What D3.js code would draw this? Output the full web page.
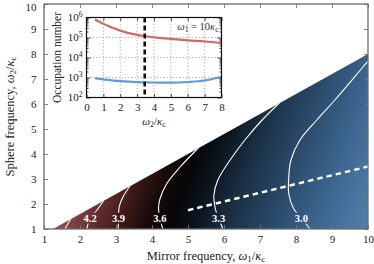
<!DOCTYPE html>
<html>
<head>
<meta charset="utf-8">
<script src="https://cdn.jsdelivr.net/npm/d3@7"></script>
<style>
body { margin: 0; background: #fff; }
text { font-family: "Liberation Serif", "DejaVu Serif", serif; }
</style>
</head>
<body>
<svg id="chart"></svg>
<script>
// main map: omega1 (mirror) vs omega2 (sphere), both in units of kappa_c
const mirrorTicks = [1, 2, 3, 4, 5, 6, 7, 8, 9, 10]
const sphereTicks = [1, 2, 3, 4, 5, 6, 7, 8, 9, 10]
const regionEdge = [[1.25, 1], [10, 8], [10, 1]]
const contourLevels = ['4.5', '4.2', '3.9', '3.6', '3.3', '3.0']
const contour45 = [[1.58, 1], [1.66, 1.2], [1.74, 1.4]]
const contour42 = [[2.19, 1], [2.28, 1.44], [2.45, 1.72], [2.66, 2.14]]
const contour39 = [[3.06, 1], [3.07, 1.44], [3.09, 1.9], [3.2, 2.3], [3.4, 2.74]]
const contour36 = [[4.3, 1], [4.22, 1.44], [4.18, 1.84], [4.22, 2.2], [4.42, 2.84], [4.78, 3.48], [5.3, 4.26]]
const contour33 = [[5.97, 1], [5.85, 1.44], [5.76, 1.8], [5.72, 2.36], [5.83, 2.96], [6.17, 3.76], [6.58, 4.56], [7.06, 5.36], [7.55, 6.06]]
const contour30 = [[8.39, 1], [8.15, 1.44], [7.94, 1.8], [7.8, 2.4], [7.8, 3.1], [7.86, 3.76], [8.11, 4.56], [8.58, 5.36], [9.08, 6.16], [9.86, 7.48], [10.05, 7.8]]
const labelSpots = [null, [2.28, 1.44], [3.07, 1.44], [4.22, 1.44], [5.85, 1.44], [8.15, 1.44]]
const ridgeLine = [[5, 1.75], [10, 3.5]]

// inset: occupation number vs omega2 at omega1 = 10 kappa_c
const insetXTicks = [0, 1, 2, 3, 4, 5, 6, 7, 8]
const insetYTicks = [1e2, 1e3, 1e4, 1e5, 1e6]
const insetOmega2 = [0.5, 1, 1.5, 2, 2.5, 3, 3.5, 4, 5, 6, 7, 8]
const occRed = [7.9e5, 4.8e5, 3.2e5, 2.2e5, 1.66e5, 1.35e5, 1.15e5, 1.02e5, 8.5e4, 7.2e4, 6.3e4, 5.3e4]
const occBlue = [912, 813, 724, 661, 617, 589, 569, 562, 556, 596, 708, 1096]
const insetMarker = 3.45

const W = 374, H = 264
const svg = d3.select('#chart').attr('width', W).attr('height', H)

const x = d3.scaleLinear().domain([1, 10]).range([44, 368])
const y = d3.scaleLinear().domain([1, 10]).range([229, 4])
const line = d3.line().x(d => x(d[0])).y(d => y(d[1]))
const smooth = d3.line().x(d => x(d[0])).y(d => y(d[1])).curve(d3.curveCatmullRom)

const defs = svg.append('defs')
defs.append('clipPath').attr('id', 'regionClip')
    .append('path').attr('d', line(regionEdge) + 'Z')

// colour runs along a tilted axis, roughly across the contours
let p0 = [x(regionEdge[0][0]), y(1)]
let dir = [130, 45]
let len = Math.hypot(dir[0], dir[1])
let u = [dir[0] / len, dir[1] / len]
let t = (x(10) - p0[0]) * u[0] + (y(1) - p0[1]) * u[1]
let grad = defs.append('linearGradient').attr('id', 'mapGrad')
    .attr('gradientUnits', 'userSpaceOnUse')
    .attr('x1', p0[0]).attr('y1', p0[1])
    .attr('x2', p0[0] + u[0] * t).attr('y2', p0[1] + u[1] * t)
let stops = [
    [0, '#955150'], [0.04, '#874646'], [0.11, '#6a3131'], [0.21, '#3f1919'],
    [0.3, '#160909'], [0.37, '#060608'], [0.45, '#0c151f'], [0.55, '#1b2f44'],
    [0.82, '#3a638c'], [1, '#5280ac']
]
grad.selectAll('stop').data(stops).enter().append('stop')
    .attr('offset', d => d[0]).attr('stop-color', d => d[1])

// coloured region
svg.append('path')
    .attr('d', line(regionEdge) + 'Z')
    .attr('fill', 'url(#mapGrad)')

// contour labels first, their boxes then punch holes in the lines
let contours = [contour45, contour42, contour39, contour36, contour33, contour30]
let labelG = svg.append('g')
let labels = labelG.selectAll('text')
    .data(contourLevels.map((lv, i) => ({ lv: lv, at: labelSpots[i] })).filter(d => d.at))
    .enter().append('text')
    .attr('x', d => x(d.at[0]))
    .attr('y', d => y(d.at[1]))
    .attr('dy', '0.35em')
    .attr('text-anchor', 'middle')
    .attr('fill', 'white')
    .attr('font-weight', 'bold')
    .attr('font-size', 10.5)
    .text(d => d.lv)

let mask = defs.append('mask').attr('id', 'lblMask')
    .attr('maskUnits', 'userSpaceOnUse')
    .attr('x', 0).attr('y', 0).attr('width', W).attr('height', H)
mask.append('rect').attr('width', W).attr('height', H).attr('fill', 'white')
labels.each(function() {
    let b = this.getBBox()
    mask.append('rect')
        .attr('x', b.x - 1).attr('y', b.y)
        .attr('width', b.width + 2).attr('height', b.height)
        .attr('fill', 'black')
})

let contourG = svg.append('g')
    .attr('clip-path', 'url(#regionClip)')
contourG.append('g').attr('mask', 'url(#lblMask)')
    .selectAll('path').data(contours).enter().append('path')
    .attr('d', smooth)
    .attr('fill', 'none')
    .attr('stroke', 'white')
    .attr('stroke-width', 1.1)

contourG.append('path')
    .attr('d', line(ridgeLine))
    .attr('fill', 'none')
    .attr('stroke', 'white')
    .attr('stroke-width', 2.4)
    .attr('stroke-dasharray', '5.5,4')

// main axes, ticks inward on all sides
function styleAxis(g) {
    g.select('.domain').remove()
    g.selectAll('.tick line').attr('stroke', '#777').attr('stroke-width', 0.9)
    g.selectAll('.tick text').attr('fill', '#222').attr('font-size', 11)
        .attr('font-family', '"Liberation Serif", serif')
}
svg.append('g').attr('transform', `translate(0,${y(1)})`)
    .call(d3.axisBottom(x).tickValues(mirrorTicks).tickSize(-4).tickPadding(6.5).tickFormat(d3.format('d')))
    .call(styleAxis)
svg.append('g').attr('transform', `translate(0,${y(10)})`)
    .call(d3.axisTop(x).tickValues(mirrorTicks).tickSize(-4).tickFormat(''))
    .call(styleAxis)
svg.append('g').attr('transform', `translate(${x(1)},0)`)
    .call(d3.axisLeft(y).tickValues(sphereTicks).tickSize(-4).tickPadding(7.5).tickFormat(d3.format('d')))
    .call(styleAxis)
    .call(g => g.selectAll('.tick text').filter(d => d === 10).attr('dy', '0.62em'))
svg.append('g').attr('transform', `translate(${x(10)},0)`)
    .call(d3.axisRight(y).tickValues(sphereTicks).tickSize(-4).tickFormat(''))
    .call(styleAxis)

svg.append('rect')
    .attr('x', x(1)).attr('y', y(10))
    .attr('width', x(10) - x(1)).attr('height', y(1) - y(10))
    .attr('fill', 'none').attr('stroke', '#6a6a6a').attr('stroke-width', 1.3)

// math-ish label helper: parts are [text, style]
function mathText(sel, parts) {
    parts.forEach(p => {
        let ts = sel.append('tspan').text(p[0])
        if (p[1] === 'i') ts.attr('font-style', 'italic')
        if (p[1] === 'sub') ts.attr('font-size', '0.72em').attr('baseline-shift', '-22%')
        if (p[1] === 'sup') ts.attr('font-size', '0.7em').attr('baseline-shift', '45%')
    })
}

let xl = svg.append('text')
    .attr('x', (x(1) + x(10)) / 2).attr('y', 260)
    .attr('text-anchor', 'middle').attr('font-size', 12.5).attr('fill', '#222')
mathText(xl, [['Mirror frequency, ', ''], ['ω', 'i'], ['1', 'sub'], ['/', ''], ['κ', 'i'], ['c', 'sub']])

let yl = svg.append('text')
    .attr('transform', `translate(14,${(y(1) + y(10)) / 2}) rotate(-90)`)
    .attr('text-anchor', 'middle').attr('font-size', 12.5).attr('fill', '#222')
mathText(yl, [['Sphere frequency, ', ''], ['ω', 'i'], ['2', 'sub'], ['/', ''], ['κ', 'i'], ['c', 'sub']])

// ---------------- inset ----------------
const ix = d3.scaleLinear().domain([0, 8]).range([86.5, 221.5])
const iy = d3.scaleLog().domain([1e2, 1e6]).range([97.5, 17.5])
const inset = svg.append('g')

inset.append('rect')
    .attr('x', ix(0)).attr('y', iy(1e6))
    .attr('width', ix(8) - ix(0)).attr('height', iy(1e2) - iy(1e6))
    .attr('fill', 'white')

// dotted grid
inset.append('g').selectAll('line').data(insetXTicks.slice(1, -1)).enter().append('line')
    .attr('x1', d => ix(d)).attr('x2', d => ix(d))
    .attr('y1', iy(1e6)).attr('y2', iy(1e2))
    .attr('stroke', '#999').attr('stroke-width', 0.8).attr('stroke-dasharray', '1.2,2')
inset.append('g').selectAll('line').data(insetYTicks.slice(1, -1)).enter().append('line')
    .attr('x1', ix(0)).attr('x2', ix(8))
    .attr('y1', d => iy(d)).attr('y2', d => iy(d))
    .attr('stroke', '#999').attr('stroke-width', 0.8).attr('stroke-dasharray', '1.2,2')

let minorTicks = []
insetYTicks.slice(0, -1).forEach(dec => {
    for (let k = 2; k < 10; k++) minorTicks.push(dec * k)
})

function styleInset(g) {
    g.select('.domain').remove()
    g.selectAll('.tick line').attr('stroke', '#222').attr('stroke-width', 0.8)
    g.selectAll('.tick text').attr('fill', '#222').attr('font-size', 11)
        .attr('font-family', '"Liberation Serif", serif')
}
inset.append('g').attr('transform', `translate(0,${iy(1e2)})`)
    .call(d3.axisBottom(ix).tickValues(insetXTicks).tickSize(-3.5).tickPadding(6).tickFormat(d3.format('d')))
    .call(styleInset)
inset.append('g').attr('transform', `translate(0,${iy(1e6)})`)
    .call(d3.axisTop(ix).tickValues(insetXTicks).tickSize(-3.5).tickFormat(''))
    .call(styleInset)
inset.append('g').attr('transform', `translate(${ix(0)},0)`)
    .call(d3.axisLeft(iy).tickValues(insetYTicks).tickSize(-4).tickFormat(''))
    .call(styleInset)
inset.append('g').attr('transform', `translate(${ix(0)},0)`)
    .call(d3.axisLeft(iy).tickValues(minorTicks).tickSize(-2).tickFormat(''))
    .call(styleInset)
inset.append('g').attr('transform', `translate(${ix(8)},0)`)
    .call(d3.axisRight(iy).tickValues(insetYTicks).tickSize(-4).tickFormat(''))
    .call(styleInset)
inset.append('g').attr('transform', `translate(${ix(8)},0)`)
    .call(d3.axisRight(iy).tickValues(minorTicks).tickSize(-2).tickFormat(''))
    .call(styleInset)

// 10^n labels
inset.append('g').selectAll('text').data(insetYTicks).enter().append('text')
    .attr('x', ix(0) - 4).attr('y', d => iy(d)).attr('dy', '0.36em')
    .attr('text-anchor', 'end').attr('font-size', 11).attr('fill', '#222')
    .each(function(d) {
        mathText(d3.select(this), [['10', ''], [String(Math.round(Math.log10(d))), 'sup']])
    })

let occLine = d3.line().x((d, i) => ix(insetOmega2[i])).y(d => iy(d)).curve(d3.curveCatmullRom)
inset.append('path').datum(occRed)
    .attr('d', occLine).attr('fill', 'none')
    .attr('stroke', '#d06868').attr('stroke-width', 2.2)
inset.append('path').datum(occBlue)
    .attr('d', occLine).attr('fill', 'none')
    .attr('stroke', '#5f9bd6').attr('stroke-width', 2.2)

inset.append('line')
    .attr('x1', ix(insetMarker)).attr('x2', ix(insetMarker))
    .attr('y1', iy(1e6)).attr('y2', iy(1e2))
    .attr('stroke', '#111').attr('stroke-width', 2.6).attr('stroke-dasharray', '5,3')

inset.append('rect')
    .attr('x', ix(0)).attr('y', iy(1e6))
    .attr('width', ix(8) - ix(0)).attr('height', iy(1e2) - iy(1e6))
    .attr('fill', 'none').attr('stroke', '#111').attr('stroke-width', 1.2)

let note = inset.append('text')
    .attr('x', ix(8) - 3).attr('y', 30)
    .attr('text-anchor', 'end').attr('font-size', 10.5).attr('fill', '#333')
mathText(note, [['ω', 'i'], ['1', 'sub'], [' = 10', ''], ['κ', 'i'], ['c', 'sub']])

let ixl = inset.append('text')
    .attr('x', (ix(0) + ix(8)) / 2).attr('y', 125)
    .attr('text-anchor', 'middle').attr('font-size', 11).attr('fill', '#222')
mathText(ixl, [['ω', 'i'], ['2', 'sub'], ['/', ''], ['κ', 'i'], ['c', 'sub']])

let iyl = inset.append('text')
    .attr('transform', `translate(61,${(iy(1e2) + iy(1e6)) / 2}) rotate(-90)`)
    .attr('text-anchor', 'middle').attr('font-size', 11.5).attr('fill', '#222')
    .text('Occupation number')
</script>
</body>
</html>
